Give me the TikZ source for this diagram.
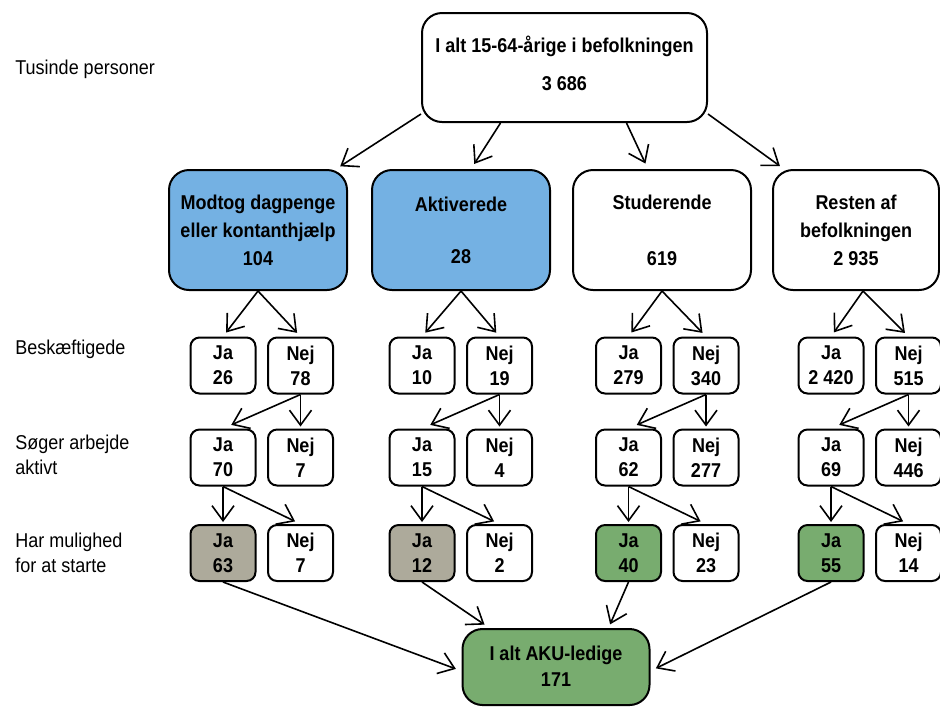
\documentclass[tikz,border=0pt]{standalone}
\usepackage{fontspec}
\setmainfont{Liberation Sans}[FakeStretch=0.9]
\usetikzlibrary{positioning,arrows.meta}

\definecolor{aktivblaa}{HTML}{74B1E3}
\definecolor{graabrun}{HTML}{ADAA9B}
\definecolor{ledgroen}{HTML}{78AC6F}

\tikzset{
  stor/.style={draw, rounded corners=10pt, line width=1pt, minimum width=89pt, minimum height=60pt, align=center, inner sep=0pt, font=\bfseries\fontsize{10}{14}\selectfont},
  lille/.style={draw, rounded corners=4.5pt, line width=1pt, minimum width=32.5pt, minimum height=28pt, align=center, inner sep=0pt, font=\bfseries\fontsize{10}{12.5}\selectfont},
  etiket/.style={anchor=west, align=left, inner sep=0pt, font=\fontsize{10}{12.5}\selectfont},
  pil/.style={-{Straight Barb[length=7.5pt,width=11pt]}, line width=0.8pt},
}

\begin{document}
\begin{tikzpicture}[x=0.5pt, y=-0.5pt]
            \useasboundingbox (0,0) rectangle (940,709);

            % Labels
            \node[etiket] (lbl_enhed) at (15,69) {Tusinde personer};
            \node[etiket] (lbl_besk) at (15,349) {Beskæftigede};
            \node[etiket] (lbl_soeger) at (15,455) {Søger arbejde\\aktivt};
            \node[etiket] (lbl_start) at (15,553) {Har mulighed\\for at starte};

            % Nodes
            \node[stor, minimum width=142.5pt, minimum height=54.5pt] (total) at (564.5,67.5) {I alt 15-64-årige i befolkningen\\[5pt]3 686\\[-10pt]\mbox{}};
            \node[stor, fill=aktivblaa] (modtog) at (258,230) {Modtog dagpenge\\eller kontanthjælp\\104};
            \node[stor, fill=aktivblaa] (aktiv) at (461,230) {Aktiverede\\[12pt]28};
            \node[stor] (stud) at (662,230) {Studerende\\[14pt]619};
            \node[stor, minimum width=83pt] (resten) at (856,230) {Resten af\\befolkningen\\2 935};

            \node[lille] (ja_b1) at (223,365.5) {Ja\\26};
            \node[lille, right=5.25pt of ja_b1] (nej_b1) {Nej\\78};
            \node[lille] (ja_s1) at (223,457.5) {Ja\\70};
            \node[lille, right=5.25pt of ja_s1] (nej_s1) {Nej\\7};
            \node[lille, fill=graabrun] (ja_m1) at (223,553) {Ja\\63};
            \node[lille, right=5.25pt of ja_m1] (nej_m1) {Nej\\7};

            \node[lille] (ja_b2) at (422,365.5) {Ja\\10};
            \node[lille, right=5.25pt of ja_b2] (nej_b2) {Nej\\19};
            \node[lille] (ja_s2) at (422,457.5) {Ja\\15};
            \node[lille, right=5.25pt of ja_s2] (nej_s2) {Nej\\4};
            \node[lille, fill=graabrun] (ja_m2) at (422,553) {Ja\\12};
            \node[lille, right=5.25pt of ja_m2] (nej_m2) {Nej\\2};

            \node[lille] (ja_b3) at (628.5,365.5) {Ja\\279};
            \node[lille, right=5.25pt of ja_b3] (nej_b3) {Nej\\340};
            \node[lille] (ja_s3) at (628.5,457.5) {Ja\\62};
            \node[lille, right=5.25pt of ja_s3] (nej_s3) {Nej\\277};
            \node[lille, fill=ledgroen] (ja_m3) at (628.5,553) {Ja\\40};
            \node[lille, right=5.25pt of ja_m3] (nej_m3) {Nej\\23};

            \node[lille] (ja_b4) at (831,365.5) {Ja\\2 420};
            \node[lille, right=5.25pt of ja_b4] (nej_b4) {Nej\\515};
            \node[lille] (ja_s4) at (831,457.5) {Ja\\69};
            \node[lille, right=5.25pt of ja_s4] (nej_s4) {Nej\\446};
            \node[lille, fill=ledgroen] (ja_m4) at (831,553) {Ja\\55};
            \node[lille, right=5.25pt of ja_m4] (nej_m4) {Nej\\14};

            \node[stor, fill=ledgroen, minimum width=93.5pt, minimum height=38pt, font=\bfseries\fontsize{10}{13}\selectfont] (aku) at (556,667) {\mbox{}\\[-6.5pt]I alt AKU-ledige\\171};

            % Arrows
            \draw[pil, shorten >=2.5pt] ([yshift=4.5pt]total.south west) -- ([xshift=-6pt]modtog.north east);
            \draw[pil, shorten >=3pt] ([xshift=-32pt]total.south) -- ([xshift=5pt]aktiv.north);
            \draw[pil, shorten >=3pt] ([xshift=31pt]total.south) -- ([xshift=-7pt]stud.north);
            \draw[pil, shorten >=2.5pt] ([yshift=4.5pt]total.south east) -- ([xshift=6pt]resten.north west);

            \draw[pil, shorten >=2.5pt] (modtog.south) -- (ja_b1.north);
            \draw[pil, shorten >=2.5pt] (modtog.south) -- (nej_b1.north);
            \draw[pil, shorten >=4.5pt] (nej_b1.south) -- (ja_s1.north);
            \draw[pil, shorten >=1pt] (nej_b1.south) -- (nej_s1.north);
            \draw[pil, shorten >=1pt] (ja_s1.south) -- (ja_m1.north);
            \draw[pil, shorten >=3pt] (ja_s1.south) -- (nej_m1.north);

            \draw[pil, shorten >=2.5pt] (aktiv.south) -- (ja_b2.north);
            \draw[pil, shorten >=2.5pt] (aktiv.south) -- (nej_b2.north);
            \draw[pil, shorten >=4.5pt] (nej_b2.south) -- (ja_s2.north);
            \draw[pil, shorten >=1pt] (nej_b2.south) -- (nej_s2.north);
            \draw[pil, shorten >=1pt] (ja_s2.south) -- (ja_m2.north);
            \draw[pil, shorten >=3pt] (ja_s2.south) -- (nej_m2.north);

            \draw[pil, shorten >=2.5pt] (stud.south) -- (ja_b3.north);
            \draw[pil, shorten >=2.5pt] (stud.south) -- (nej_b3.north);
            \draw[pil, shorten >=4.5pt] (nej_b3.south) -- (ja_s3.north);
            \draw[pil, shorten >=1pt] (nej_b3.south) -- (nej_s3.north);
            \draw[pil, shorten >=1pt] (ja_s3.south) -- (ja_m3.north);
            \draw[pil, shorten >=3pt] (ja_s3.south) -- (nej_m3.north);

            \draw[pil, shorten >=2.5pt] ([xshift=3.5pt]resten.south) -- (ja_b4.north);
            \draw[pil, shorten >=2.5pt] ([xshift=3.5pt]resten.south) -- (nej_b4.north);
            \draw[pil, shorten >=4.5pt] (nej_b4.south) -- (ja_s4.north);
            \draw[pil, shorten >=1pt] (nej_b4.south) -- (nej_s4.north);
            \draw[pil, shorten >=1pt] (ja_s4.south) -- (ja_m4.north);
            \draw[pil, shorten >=3pt] (ja_s4.south) -- (nej_m4.north);

            \draw[pil, shorten >=3pt] (ja_m1.south) -- ([yshift=-2pt]aku.west);
            \draw[pil, shorten >=3pt] (ja_m2.south) -- ([xshift=14pt]aku.north west);
            \draw[pil, shorten >=2pt] (ja_m3.south) -- ([xshift=-21pt]aku.north east);
            \draw[pil, shorten >=3pt] (ja_m4.south) -- ([yshift=-2pt]aku.east);
        \end{tikzpicture}
\end{document}
